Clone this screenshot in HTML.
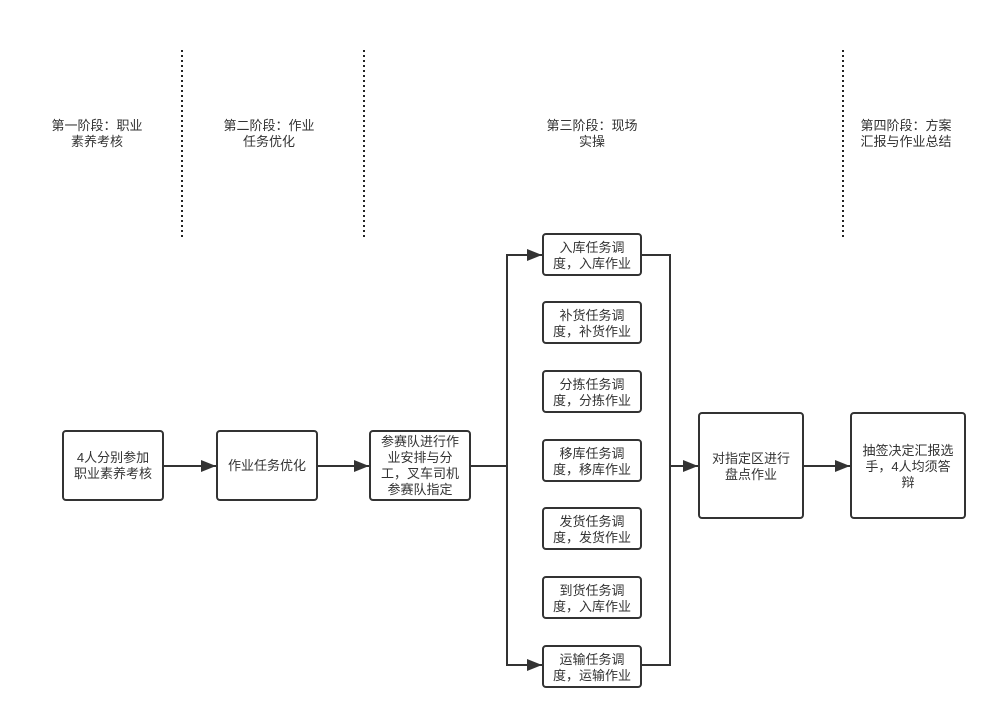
<!DOCTYPE html>
<html><head><meta charset="utf-8"><style>
html,body{margin:0;padding:0;background:#fff;}
svg text{font-family:"Liberation Sans","Noto Sans CJK SC",sans-serif;font-size:13px;fill:#333;text-anchor:middle;}
</style></head><body>
<svg width="997" height="718" viewBox="0 0 997 718" xmlns="http://www.w3.org/2000/svg">
<defs><marker id="a" markerWidth="15" markerHeight="12" refX="15" refY="6" orient="auto" markerUnits="userSpaceOnUse"><path d="M0,0L15,6L0,12z" fill="#333"/></marker></defs>
<g stroke="#222" stroke-width="2" stroke-dasharray="2,3">
<line x1="182" y1="50" x2="182" y2="238"/>
<line x1="364" y1="50" x2="364" y2="238"/>
<line x1="843" y1="50" x2="843" y2="238"/>
</g>
<text x="97" y="130">第一阶段：职业</text><text x="97" y="146">素养考核</text>
<text x="269" y="130">第二阶段：作业</text><text x="269" y="146">任务优化</text>
<text x="592" y="130">第三阶段：现场</text><text x="592" y="146">实操</text>
<text x="906" y="130">第四阶段：方案</text><text x="906" y="146">汇报与作业总结</text>
<g fill="none" stroke="#333" stroke-width="2">
<line x1="163" y1="466" x2="216" y2="466" marker-end="url(#a)"/>
<line x1="317" y1="466" x2="369" y2="466" marker-end="url(#a)"/>
<polyline points="470,466 507,466"/>
<polyline points="507,665 507,255 542,255" marker-end="url(#a)"/>
<polyline points="507,600 507,665 542,665" marker-end="url(#a)"/>
<polyline points="641,255 670,255 670,665 641,665"/>
<line x1="670" y1="466" x2="698" y2="466" marker-end="url(#a)"/>
<line x1="803" y1="466" x2="850" y2="466" marker-end="url(#a)"/>
</g>
<g fill="#fff" stroke="#333" stroke-width="2">
<rect x="63" y="431" width="100" height="69" rx="3"/>
<rect x="217" y="431" width="100" height="69" rx="3"/>
<rect x="370" y="431" width="100" height="69" rx="3"/>
<rect x="543" y="234" width="98" height="41" rx="3"/>
<rect x="543" y="302" width="98" height="41" rx="3"/>
<rect x="543" y="371" width="98" height="41" rx="3"/>
<rect x="543" y="440" width="98" height="41" rx="3"/>
<rect x="543" y="508" width="98" height="41" rx="3"/>
<rect x="543" y="577" width="98" height="41" rx="3"/>
<rect x="543" y="646" width="98" height="41" rx="3"/>
<rect x="699" y="413" width="104" height="105" rx="3"/>
<rect x="851" y="413" width="114" height="105" rx="3"/>
</g>
<text x="113" y="462">4人分别参加</text><text x="113" y="478">职业素养考核</text>
<text x="267" y="470">作业任务优化</text>
<text x="420" y="446">参赛队进行作</text><text x="420" y="462">业安排与分</text><text x="420" y="478">工，叉车司机</text><text x="420" y="494">参赛队指定</text>
<text x="592" y="252">入库任务调</text><text x="592" y="268">度，入库作业</text>
<text x="592" y="320">补货任务调</text><text x="592" y="336">度，补货作业</text>
<text x="592" y="389">分拣任务调</text><text x="592" y="405">度，分拣作业</text>
<text x="592" y="458">移库任务调</text><text x="592" y="474">度，移库作业</text>
<text x="592" y="526">发货任务调</text><text x="592" y="542">度，发货作业</text>
<text x="592" y="595">到货任务调</text><text x="592" y="611">度，入库作业</text>
<text x="592" y="664">运输任务调</text><text x="592" y="680">度，运输作业</text>
<text x="751" y="463">对指定区进行</text><text x="751" y="479">盘点作业</text>
<text x="908" y="455">抽签决定汇报选</text><text x="908" y="471">手，4人均须答</text><text x="908" y="487">辩</text>
</svg>
</body></html>
